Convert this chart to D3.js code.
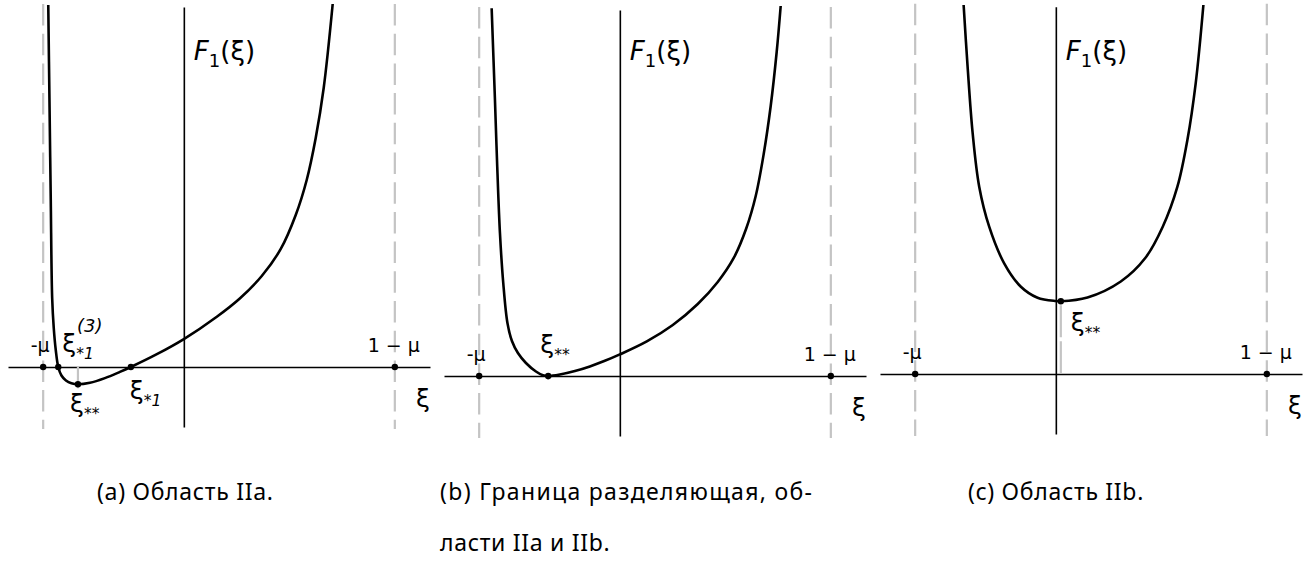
<!DOCTYPE html>
<html>
<head>
<meta charset="utf-8">
<script src="https://cdn.jsdelivr.net/npm/d3@7/dist/d3.min.js"></script>
<style>
  html, body { margin: 0; padding: 0; background: #fff; }
  svg { display: block; }
</style>
</head>
<body>
<svg id="fig" width="1314" height="562"></svg>
<script>
// Mass parameter: singularities of F1 sit at ξ = -μ and ξ = 1 - μ
const mu = 0.4;

// Horizontal and vertical ranges shown in each panel
const xiRange = [-0.5, 0.7];
const fRange = [-1, 6];

// F1(ξ) sampled along the curve, region IIa
const curveA = [
  [-0.3855, 6.033], [-0.3821, 4.45], [-0.3784, 2.783], [-0.3744, 1.15],
  [-0.3699, 0.65], [-0.3642, 0.283], [-0.3571, 0], [-0.3480, -0.142],
  [-0.3352, -0.225], [-0.3196, -0.272], [-0.3011, -0.288], [-0.2670, -0.263],
  [-0.2244, -0.185], [-0.1818, -0.082], [-0.1506, 0], [-0.0767, 0.213],
  [0, 0.465], [0.0938, 0.838], [0.1591, 1.142], [0.2216, 1.517], [0.2756, 1.967],
  [0.3182, 2.533], [0.3494, 3.117], [0.375, 3.817], [0.3977, 4.65], [0.4233, 6.05]
];

// F1(ξ) on the boundary between regions IIa and IIb
const curveB = [
  [-0.3645, 6.128], [-0.3551, 4.6], [-0.3486, 3.488], [-0.3409, 2.383],
  [-0.3315, 1.55], [-0.3196, 0.883], [-0.3068, 0.583], [-0.2898, 0.383],
  [-0.2670, 0.217], [-0.2386, 0.075], [-0.2188, 0.013], [-0.2037, 0],
  [-0.1705, 0.025], [-0.1278, 0.083], [-0.0852, 0.16], [-0.0426, 0.253],
  [0, 0.36], [0.0767, 0.577], [0.1506, 0.85], [0.2216, 1.2],
  [0.2784, 1.567], [0.3239, 1.967], [0.3594, 2.458], [0.3864, 3.0],
  [0.4091, 3.7], [0.4290, 4.5], [0.4460, 5.4], [0.4574, 6.167]
];

// F1(ξ), region IIb
const curveC = [
  [-0.2622, 6.15], [-0.2509, 5.122], [-0.2366, 4.017], [-0.2179, 3.122],
  [-0.1895, 2.455], [-0.1469, 1.845], [-0.0994, 1.455], [-0.052, 1.272],
  [0, 1.217], [0.0142, 1.213], [0.09, 1.275], [0.1847, 1.542],
  [0.2543, 1.933], [0.304, 2.455], [0.3457, 3.122], [0.3741, 3.9],
  [0.3977, 4.845], [0.4196, 6.15]
];

// Marked points: ξ value and F1 value
const rootsA = [[-0.3571, 0], [-0.1506, 0]];   // ξ*1^(3), ξ*1
const minA = [-0.3011, -0.288];                  // ξ**
const minB = [-0.2037, 0];
const minC = [0.0142, 1.213];

// Caption lines for the three panels
const captions = [
  ["(a) Область IIa."],
  ["(b) Граница разделяющая, об-", "ласти IIa и IIb."],
  ["(c) Область IIb."]
];

const MATH_FONT = "'DejaVu Sans', sans-serif";
const CAP_FONT = "'Noto Sans', sans-serif";

const svg = d3.select("#fig");

// Layout of each panel: left edge, row of the ξ axis, upper end of the F axis
const layout = [
  { x0: 8,   axisY: 367, top: 6.0,  curve: curveA, min: minA, roots: rootsA },
  { x0: 444, axisY: 376, top: 6.1,  curve: curveB, min: minB, roots: [] },
  { x0: 880, axisY: 374, top: 6.12, curve: curveC, min: minC, roots: [] }
];
const panelW = 422;
const unitY = 60;

const line = d3.line().curve(d3.curveCatmullRom.alpha(0.5));

function mathText(g, x, y, size) {
  return g.append("text").attr("font-family", MATH_FONT).attr("fill", "#000")
    .attr("font-size", size).attr("x", x).attr("y", y);
}

function xiLabel(g, x, y, sub, sup, size) {
  const t = mathText(g, x, y, size);
  t.append("tspan").text("ξ");
  if (sub) {
    t.append("tspan").attr("font-size", size * 0.62).attr("font-style", "italic")
      .attr("dy", size * 0.28).text(sub);
  }
  if (sup) {
    mathText(g, x + size * 0.55 + 1, y - size * 0.8, size * 0.72)
      .attr("font-style", "italic").text(sup);
  }
}

layout.forEach((p, i) => {
  const g = svg.append("g");
  const x = d3.scaleLinear().domain(xiRange).range([p.x0, p.x0 + panelW]);
  const y = d3.scaleLinear().domain(fRange)
    .range([p.axisY - fRange[0] * unitY, p.axisY - fRange[1] * unitY]);

  // dashed asymptotes at ξ = -μ and ξ = 1 - μ
  [-mu, 1 - mu].forEach(v => {
    g.append("line")
      .attr("x1", x(v)).attr("x2", x(v))
      .attr("y1", y(p.top) - 3).attr("y2", y(fRange[0]) + 2)
      .attr("stroke", "#c4c4c4").attr("stroke-width", 2.2)
      .attr("stroke-dasharray", "21.5 8.2");
  });

  // ξ axis
  const xAxis = d3.axisBottom(x).tickValues([]).tickSizeOuter(0);
  g.append("g").attr("transform", `translate(0,${y(0)})`).call(xAxis)
    .call(s => s.select(".domain").attr("stroke", "#000").attr("stroke-width", 1.6));

  // F axis at ξ = 0
  const yV = d3.scaleLinear().domain([fRange[0], p.top])
    .range([y(fRange[0]), y(p.top)]);
  const yAxis = d3.axisLeft(yV).tickValues([]).tickSizeOuter(0);
  g.append("g").attr("transform", `translate(${x(0)},0)`).call(yAxis)
    .call(s => s.select(".domain").attr("stroke", "#000").attr("stroke-width", 1.6));

  // drop line from the minimum to the ξ axis
  g.append("line")
    .attr("x1", x(p.min[0])).attr("x2", x(p.min[0]))
    .attr("y1", y(p.min[1]) + 4).attr("y2", y(0))
    .attr("stroke", "#c4c4c4").attr("stroke-width", 2.2)
    .attr("stroke-dasharray", "32 4 32");

  // the curve
  g.append("path")
    .attr("d", line(p.curve.map(d => [x(d[0]), y(d[1])])))
    .attr("fill", "none").attr("stroke", "#000").attr("stroke-width", 2.6)
    .attr("stroke-linejoin", "round");

  // marked points
  const pts = [[-mu, 0], [1 - mu, 0], p.min, ...p.roots];
  g.selectAll("circle.pt").data(pts).join("circle")
    .attr("class", "pt")
    .attr("cx", d => x(d[0])).attr("cy", d => y(d[1])).attr("r", 3.2)
    .attr("fill", "#000");

  // singularity labels
  mathText(g, x(-mu) - 3, y(0) - 15, 19).attr("text-anchor", "middle").text("-μ");
  mathText(g, x(1 - mu) - 1, y(0) - 15, 19).attr("text-anchor", "middle").text("1 − μ");

  // axis names
  mathText(g, p.x0 + panelW, y(0) + 40, 25).attr("text-anchor", "end").text("ξ");

  const fl = mathText(g, x(0) + 10, 60, 26);
  fl.append("tspan").attr("font-style", "italic").text("F");
  fl.append("tspan").attr("font-size", 18).attr("dy", 7).text("1");
  fl.append("tspan").attr("dy", -7).text("(ξ)");

  // point labels
  if (i === 0) {
    xiLabel(g, x(rootsA[0][0]) + 4, y(0) - 15, "*1", "(3)", 25);
    xiLabel(g, x(minA[0]) - 8, y(minA[1]) + 28, "**", null, 25);
    xiLabel(g, x(rootsA[1][0]) - 1, y(0) + 32, "*1", null, 25);
  } else if (i === 1) {
    xiLabel(g, x(minB[0]) - 8, y(0) - 23, "**", null, 25);
  } else {
    xiLabel(g, x(minC[0]) + 10, y(minC[1]) + 30, "**", null, 25);
  }
});

// captions; the first line of (b) is justified to the full column width
const capX = [97, 440, 968];
const justifyW = 372;
const baseSpacing = 0.7;
captions.forEach((lines, i) => {
  lines.forEach((txt, j) => {
    const t = svg.append("text").attr("font-family", CAP_FONT).attr("fill", "#000")
      .attr("font-size", 23)
      .attr("x", capX[i]).attr("y", 500 + j * 51)
      .text(txt);
    if (lines.length > 1 && j < lines.length - 1) {
      const w = t.node().getComputedTextLength();
      t.attr("letter-spacing", Math.max(0, (justifyW - w) / (txt.length - 1)));
    } else {
      t.attr("letter-spacing", baseSpacing);
    }
  });
});
</script>
</body>
</html>
